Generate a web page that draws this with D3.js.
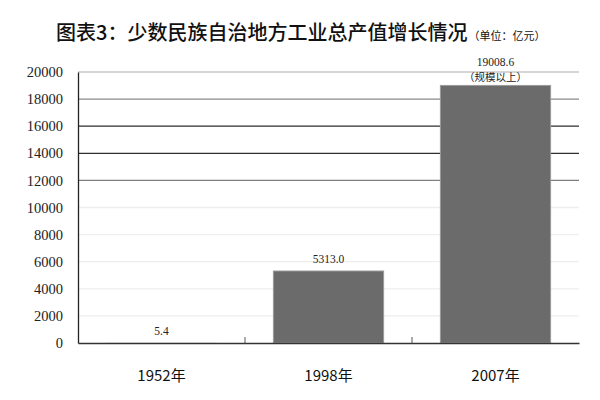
<!DOCTYPE html>
<html><head><meta charset="utf-8">
<script src="https://cdn.jsdelivr.net/npm/d3@7/dist/d3.min.js"></script>
<style>body{margin:0;background:#fff}</style>
</head><body><svg id="c" width="600" height="400"></svg>
<script>
const categories = ["1952年", "1998年", "2007年"];
const values = [5.4, 5313.0, 19008.6];
const valueLabels = ["5.4", "5313.0", "19008.6"];
const valueNotes = ["", "", "（规模以上）"];
const yTicks = [0, 2000, 4000, 6000, 8000, 10000, 12000, 14000, 16000, 18000, 20000];
const titleMain = "图表3：少数民族自治地方工业总产值增长情况";
const titleUnit = "（单位：亿元）";

const gridColor = {20000:"#c8c8c8",18000:"#8a8a8a",16000:"#2e2e2e",14000:"#2e2e2e",12000:"#808080"};

const svg = d3.select("#c");
const L = 78, R = 579, T = 72, B = 343;
const x = d3.scaleBand().domain(categories).range([L, R]).paddingInner(0.34).paddingOuter(0.17);
const xc = d3.scaleBand().domain(categories).range([L, R]);
const y = d3.scaleLinear().domain([0, 20000]).range([B, T]);

// title
const t = svg.append("text").attr("x", 56).attr("y", 40).attr("font-family", "'Noto Sans CJK SC'").attr("fill", "#111");
t.append("tspan").attr("font-size", 20).attr("font-weight", 500).text(titleMain);
t.append("tspan").attr("font-size", 11).attr("dx", 1).text(titleUnit);

// gridlines
svg.append("g").selectAll("line").data(yTicks.filter(d => d > 0)).join("line")
  .attr("x1", L).attr("x2", R).attr("y1", d => y(d)).attr("y2", d => y(d))
  .attr("stroke", d => gridColor[d] || "#eeeeee").attr("stroke-width", 1.3);

// y axis
const ya = svg.append("g").attr("transform", `translate(${L},0)`).call(d3.axisLeft(y).tickValues(yTicks).tickSize(0).tickPadding(15).tickFormat(d3.format("d")));
ya.select(".domain").attr("stroke", "#222").attr("stroke-width", 1.3);
ya.selectAll("text").attr("font-family", "'Liberation Serif', serif").attr("font-size", 14.5).attr("fill", "#222");

// bars
svg.append("g").selectAll("rect").data(values).join("rect")
  .attr("x", (d, i) => x(categories[i])).attr("width", x.bandwidth())
  .attr("y", d => y(d)).attr("height", d => B - y(d))
  .attr("fill", "#6b6b6b").attr("stroke", d => (B - y(d)) > 2 ? "#9a9a9a" : "none").attr("stroke-width", 1);

// x axis
const xa = svg.append("g").attr("transform", `translate(0,${B})`).call(d3.axisBottom(xc).tickSize(0).tickPadding(27));
xa.select(".domain").attr("stroke", "#333").attr("stroke-width", 1.3);
xa.selectAll("text").attr("font-family", "'Noto Sans CJK SC'").attr("font-size", 15).attr("fill", "#111");
svg.append("g").selectAll("line").data(categories.slice(1)).join("line")
  .attr("x1", d => xc(d)).attr("x2", d => xc(d)).attr("y1", B).attr("y2", B - 6)
  .attr("stroke", "#555").attr("stroke-width", 1);

// value labels
const lab = svg.append("g").attr("font-family", "'Liberation Serif', serif").attr("font-size", 11.5).attr("fill", "#222").attr("text-anchor", "middle");
lab.selectAll("text.v").data(values).join("text").attr("class", "v")
  .attr("x", (d, i) => xc(categories[i]) + xc.bandwidth() / 2)
  .attr("y", (d, i) => valueNotes[i] ? y(d) - 19 : y(d) - 8)
  .text((d, i) => valueLabels[i]);
lab.selectAll("text.n").data(values).join("text").attr("class", "n")
  .attr("x", (d, i) => xc(categories[i]) + xc.bandwidth() / 2)
  .attr("y", d => y(d) - 4)
  .attr("font-family", "'Noto Sans CJK SC'").attr("font-size", 10.5)
  .text((d, i) => valueNotes[i]);
</script></body></html>
